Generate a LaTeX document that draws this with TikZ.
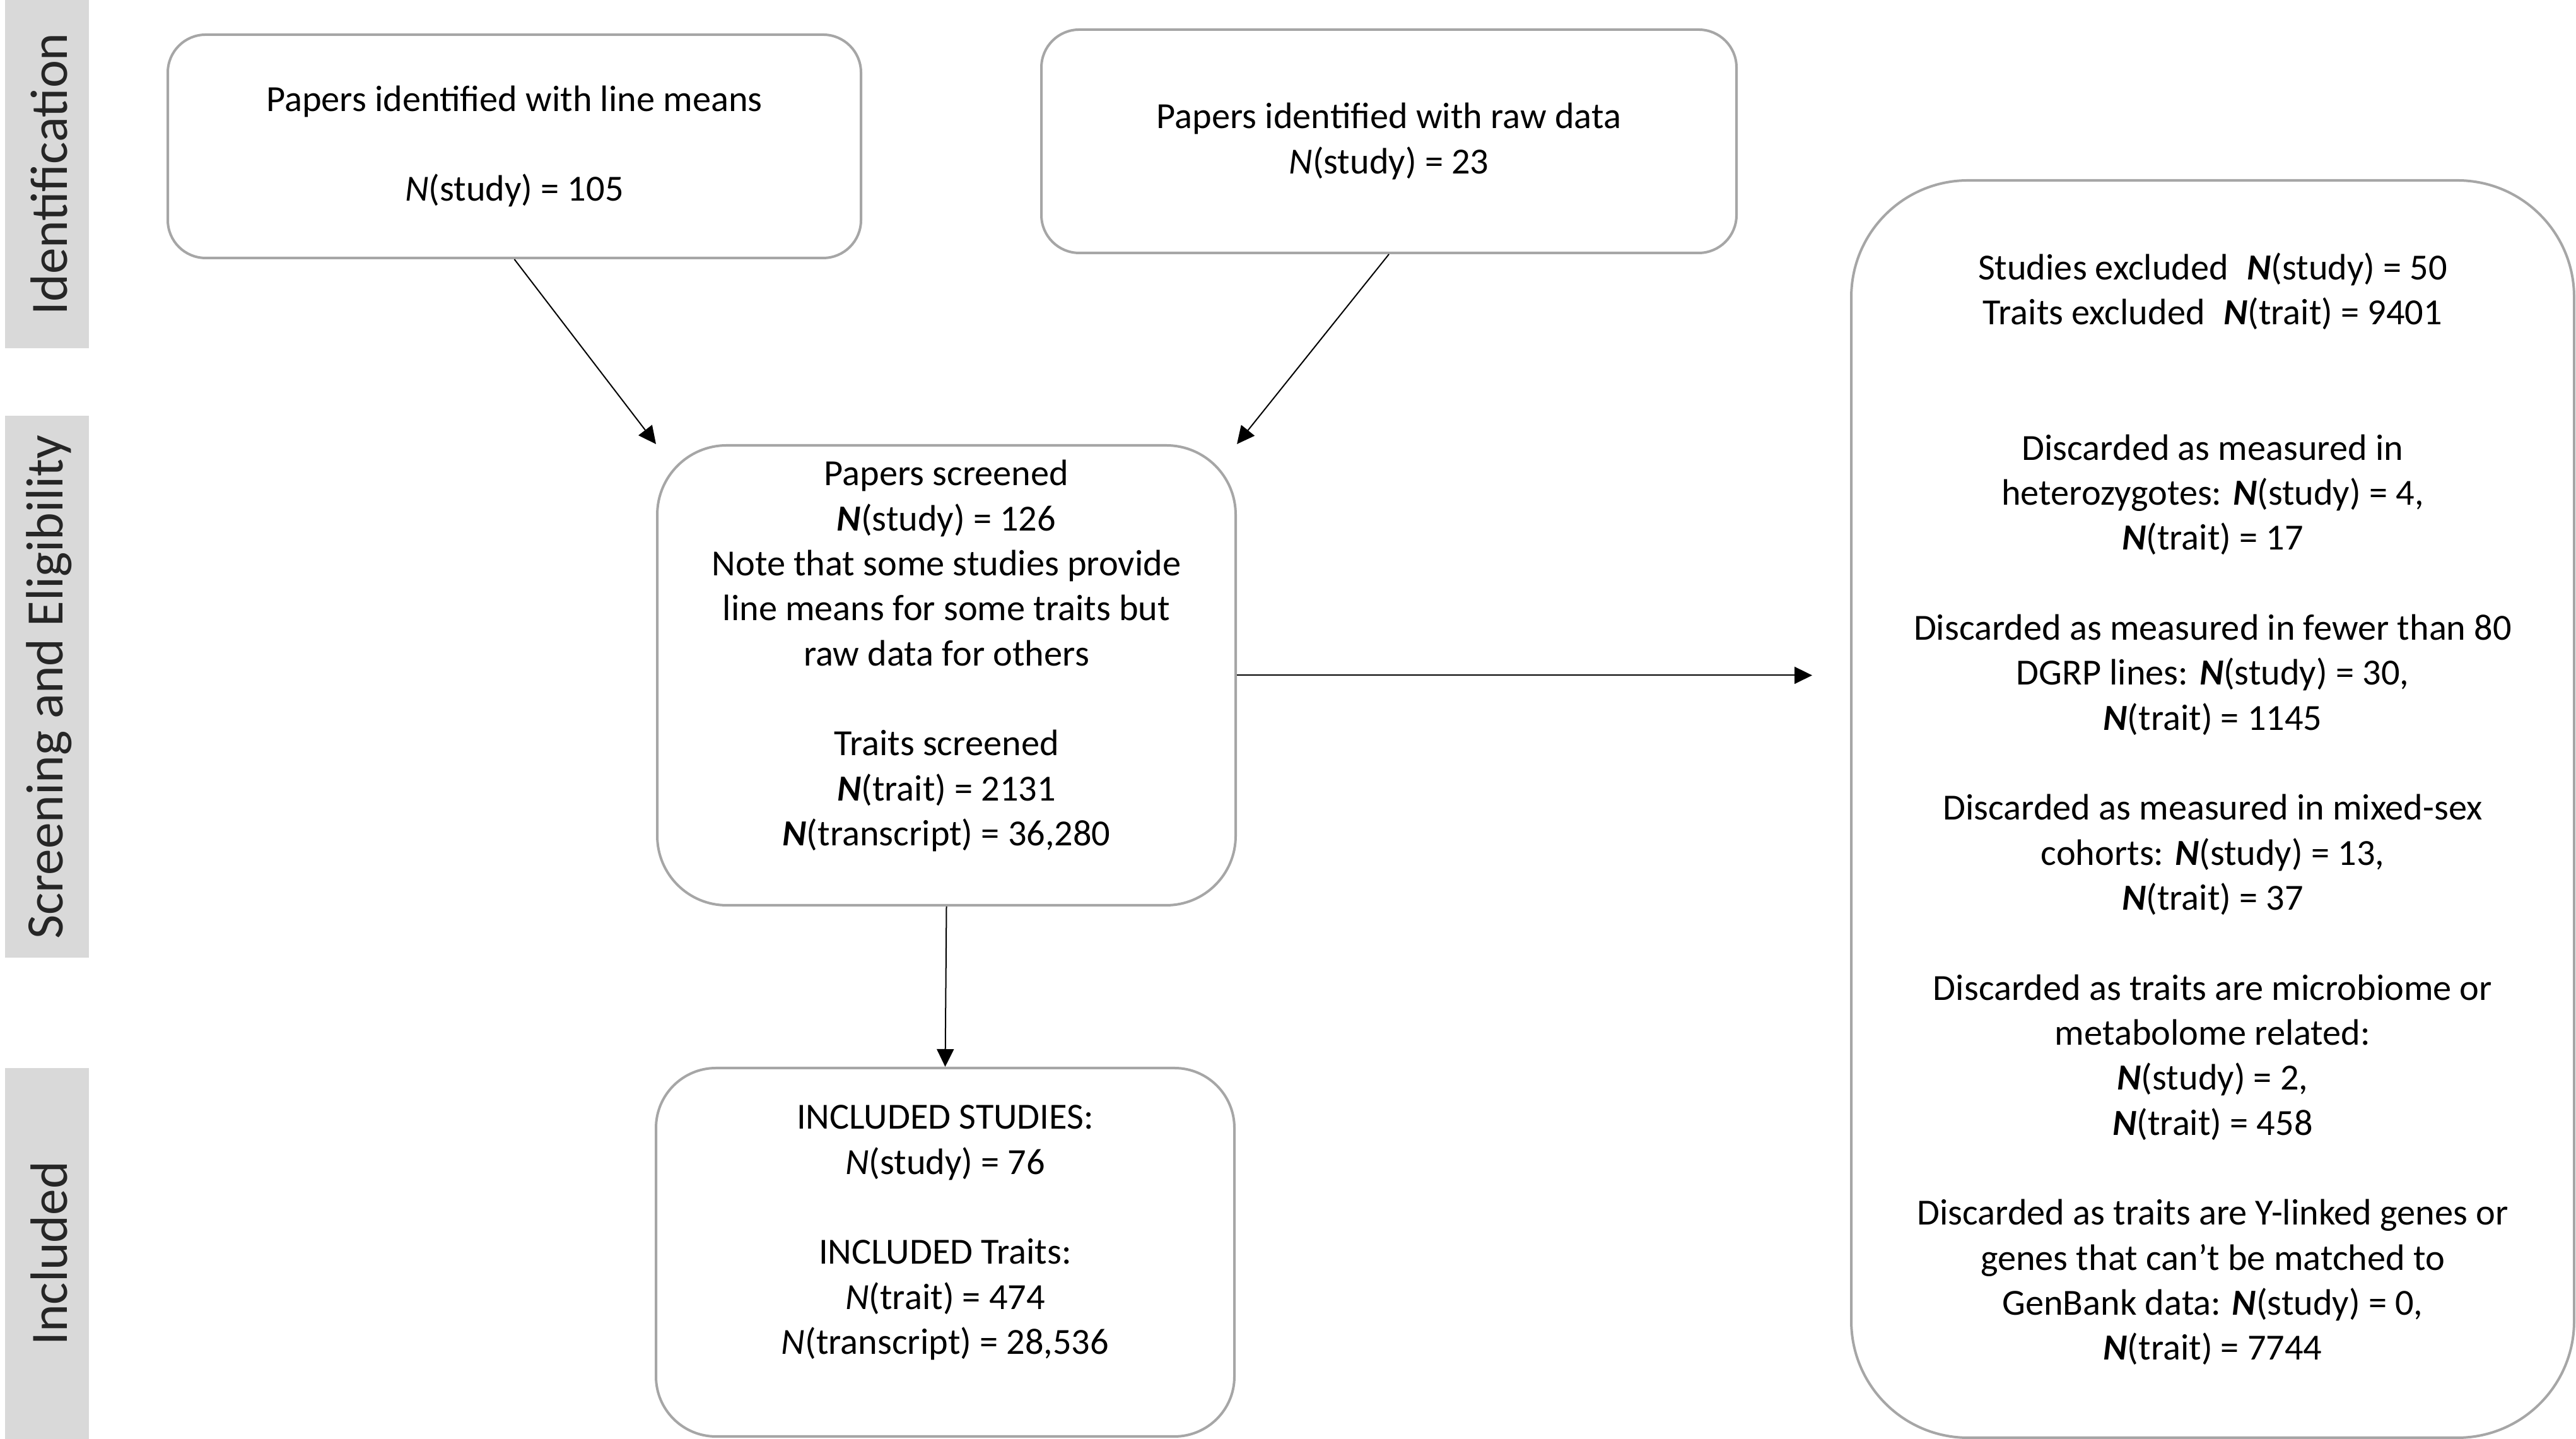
\documentclass[tikz,border=0pt]{standalone}
\usepackage{fontspec}
\setmainfont{Carlito}
\usepackage{tikz}
\usetikzlibrary{arrows.meta, positioning, calc}

\definecolor{boxgray}{HTML}{A6A6A6}
\definecolor{stripgray}{HTML}{D9D9D9}

\newcommand{\Nb}{\textbf{\textit{N}}}
\newcommand{\Ni}{\textit{N}}

\tikzset{
    flowbox/.style={draw=boxgray, line width=0.04cm, fill=white, align=center, inner sep=0pt,
        font=\fontsize{16.6}{20.3}\selectfont},
    stagebar/.style={fill=stripgray},
    stagelabel/.style={rotate=90, text=black!85, font=\fontsize{23.7}{28}\selectfont},
    flowarrow/.style={-{Triangle[length=0.28cm, width=0.27cm]}, line width=0.02cm},
}

\begin{document}
\begin{tikzpicture}
    \useasboundingbox (0,0) rectangle (40.84,22.81);

    % stage bars on the left
    \fill[stagebar] (0.08,17.29) rectangle (1.41,22.81);
    \fill[stagebar] (0.08,7.63) rectangle (1.41,16.22);
    \fill[stagebar] (0.08,0) rectangle (1.41,5.88);
    \node[stagelabel] (ident) at (0.78,20.05) {Identification};
    \node[stagelabel] (screen) at (0.78,11.92) {Screening and Eligibility};
    \node[stagelabel] (incl) at (0.78,2.94) {Included};

    % boxes
    \node[flowbox, rounded corners=0.6cm, minimum width=10.99cm, minimum height=3.54cm] (means) at (8.155,20.49)
        {Papers identified with line means\\ \\ \Ni(study) = 105};
    \node[flowbox, rounded corners=0.6cm, minimum width=11.02cm, minimum height=3.54cm] (raw) at (22.02,20.57)
        {Papers identified with raw data\\ \Ni(study) = 23};
    \node[flowbox, rounded corners=1.1cm, minimum width=9.17cm, minimum height=7.29cm] (screened) at (15.005,12.105)
        {Papers screened\\ \Nb(study) = 126\\ Note that some studies provide\\ line means for some traits but\\
         raw data for others\\ \\ Traits screened\\ \Nb(trait) = 2131\\ \Nb(transcript) = 36,280\\ \mbox{}};
    \node[flowbox, rounded corners=0.95cm, minimum width=9.17cm, minimum height=5.84cm] (included) at (14.985,2.96)
        {INCLUDED STUDIES:\\ \Ni(study) = 76\\ \\ INCLUDED Traits:\\ \Ni(trait) = 474\\ \Ni(transcript) = 28,536\\ \mbox{}};
    \node[flowbox, rounded corners=1.85cm, minimum width=11.46cm, minimum height=19.93cm] (excluded) at (35.08,9.985)
        {Studies excluded\enspace \Nb(study) = 50\\ Traits excluded\enspace \Nb(trait) = 9401\\ \\ \\
         Discarded as measured in\\ heterozygotes: \Nb(study) = 4,\\ \Nb(trait) = 17\\ \\
         Discarded as measured in fewer than 80\\ DGRP lines: \Nb(study) = 30,\\ \Nb(trait) = 1145\\ \\
         Discarded as measured in mixed-sex\\ cohorts: \Nb(study) = 13,\\ \Nb(trait) = 37\\ \\
         Discarded as traits are microbiome or\\ metabolome related:\\ \Nb(study) = 2,\\ \Nb(trait) = 458\\ \\
         Discarded as traits are Y-linked genes or\\ genes that can’t be matched to\\
         GenBank data: \Nb(study) = 0,\\ \Nb(trait) = 7744};

    % arrows
    \draw[flowarrow] (means.south) -- (screened.north west);
    \draw[flowarrow] (raw.south) -- (screened.north east);
    \draw[flowarrow] (screened.south) -- (included.north);
    \draw[flowarrow, shorten >=0.6cm] (screened.east) -- (screened.east -| excluded.west);
\end{tikzpicture}
\end{document}
